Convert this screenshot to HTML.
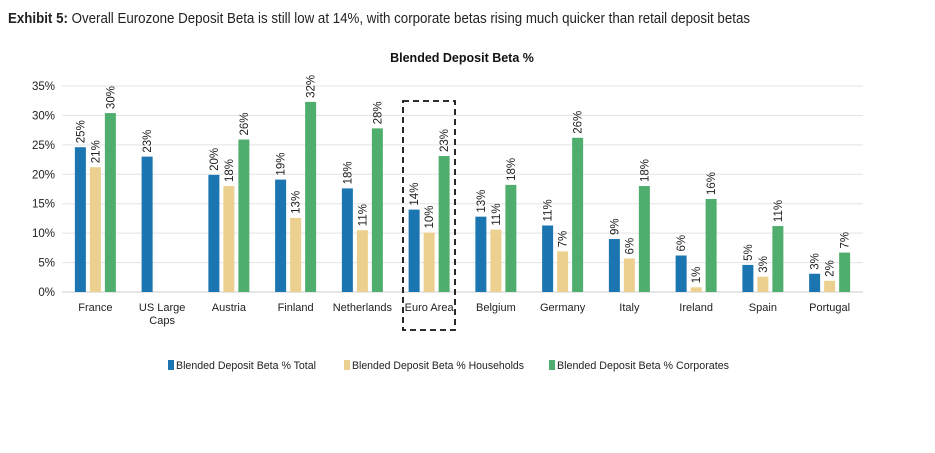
<!DOCTYPE html>
<html><head><meta charset="utf-8"><style>
body{margin:0;background:#fff;width:935px;height:448px;overflow:hidden;font-family:"Liberation Sans",sans-serif}
</style></head><body>
<svg width="935" height="448" font-family="Liberation Sans, sans-serif">
<text x="8" y="23" font-size="14.5" fill="#222" textLength="742" lengthAdjust="spacingAndGlyphs"><tspan font-weight="bold">Exhibit 5:</tspan> Overall Eurozone Deposit Beta is still low at 14%, with corporate betas rising much quicker than retail deposit betas</text>
<text x="462" y="62" font-size="12.5" font-weight="bold" text-anchor="middle" fill="#111">Blended Deposit Beta %</text>
<g id="grid"></g><g id="bars"></g>
<rect x="403" y="101" width="52" height="229" fill="none" stroke="#111" stroke-width="1.8" stroke-dasharray="6,4"/>
<g font-size="11" fill="#222">
<rect x="168" y="360" width="6" height="10" fill="#1b75b1"/>
<text x="176" y="369" textLength="140" lengthAdjust="spacingAndGlyphs">Blended Deposit Beta % Total</text>
<rect x="344" y="360" width="6" height="10" fill="#ecd08f"/>
<text x="352" y="369" textLength="172" lengthAdjust="spacingAndGlyphs">Blended Deposit Beta % Households</text>
<rect x="549" y="360" width="6" height="10" fill="#4fae6e"/>
<text x="557" y="369" textLength="172" lengthAdjust="spacingAndGlyphs">Blended Deposit Beta % Corporates</text>
</g>
</svg>
<script>
const categories=["France","US Large|Caps","Austria","Finland","Netherlands","Euro Area","Belgium","Germany","Italy","Ireland","Spain","Portugal"];
const totalVals=[24.6,23,19.9,19.1,17.6,14,12.8,11.3,9,6.2,4.6,3.1];
const householdVals=[21.2,null,18,12.6,10.5,10.1,10.6,6.9,5.7,0.8,2.6,1.9];
const corporateVals=[30.4,null,25.9,32.3,27.8,23.1,18.2,26.2,18,15.8,11.2,6.7];
const totalLabels=["25%","23%","20%","19%","18%","14%","13%","11%","9%","6%","5%","3%"];
const householdLabels=["21%","","18%","13%","11%","10%","11%","7%","6%","1%","3%","2%"];
const corporateLabels=["30%","","26%","32%","28%","23%","18%","26%","18%","16%","11%","7%"];
const yTicks=[0,5,10,15,20,25,30,35];
const NS="http://www.w3.org/2000/svg";
const x0=62,x1=863,yB=292,yT=86;
const y=v=>yB-(v/35)*(yB-yT);
const band=(x1-x0)/categories.length;
const cx=i=>x0+band*(i+0.5);
function mk(t,a,p){const e=document.createElementNS(NS,t);for(const k in a)e.setAttribute(k,a[k]);p.appendChild(e);return e;}
const grid=document.getElementById('grid'),bars=document.getElementById('bars');
yTicks.forEach(t=>{
 const l=mk('line',{x1:x0,x2:x1,y1:y(t),y2:y(t),stroke:t===0?'#ccc':'#e3e3e3','stroke-width':1},grid);
 
 
 const tx=mk('text',{x:55,y:y(t)+4,'font-size':11.5,'text-anchor':'end',fill:'#222'},grid);
 tx.textContent=t+'%';
 
 
});
const series=[[totalVals,totalLabels,'#1b75b1','total'],[householdVals,householdLabels,'#ecd08f','households'],[corporateVals,corporateLabels,'#4fae6e','corporates']];
categories.forEach((c,i)=>{
 const parts=c.split('|');
 const t=mk('text',{x:cx(i),y:311,'font-size':11,'text-anchor':'middle',fill:'#222'},grid);
 parts.forEach((p,k)=>{const s=mk('tspan',{x:cx(i),dy:k?13:0},t);s.textContent=p;});
 
 
 series.forEach((s,j)=>{
  const v=s[0][i]; if(v==null)return;
  const bx=cx(i)+(j-1)*15-5.5;
  const r=mk('rect',{x:bx,y:y(v),width:11,height:yB-y(v),fill:s[2]},bars);
  
  
  const lx=bx+5.5+4, ly=y(v)-4;
  const lb=mk('text',{x:lx,y:ly,'font-size':11.5,fill:'#222',transform:`rotate(-90 ${lx} ${ly})`},bars);
  lb.textContent=s[1][i];
  
  
 });
});
</script>
</body></html>
